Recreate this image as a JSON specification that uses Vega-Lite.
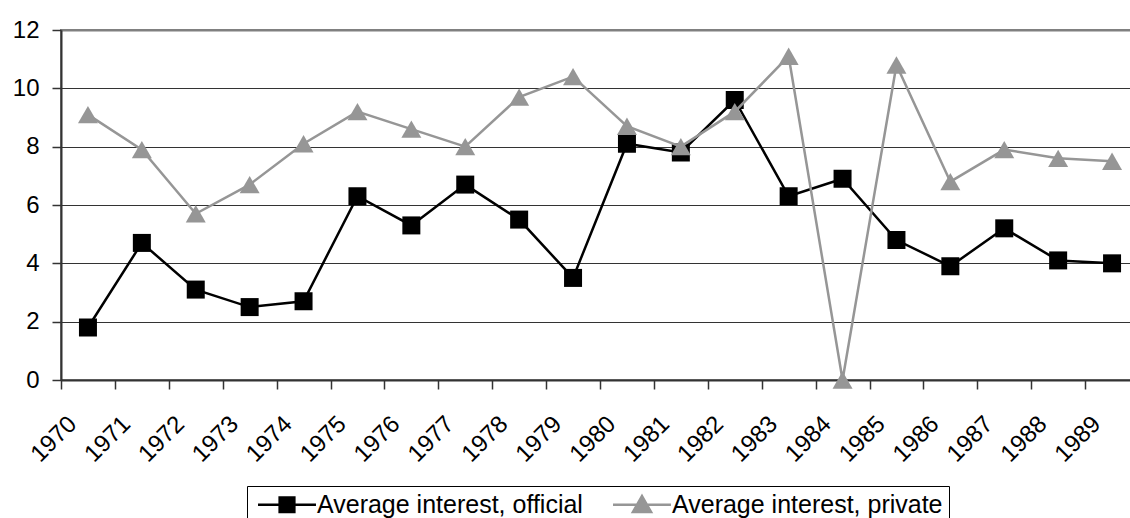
{
  "$schema": "https://vega.github.io/schema/vega-lite/v6.json",
  "width": 1078,
  "height": 350,
  "autosize": {"type": "none"},
  "padding": {"left": 61, "top": 30, "right": -9, "bottom": 138},
  "background": "white",
  "config": {
    "font": "Liberation Sans",
    "view": {"stroke": "#808080", "strokeWidth": 2}
  },
  "data": {
    "values": [
      {"year": "1970", "series": "Average interest, official", "value": 1.8},
      {"year": "1971", "series": "Average interest, official", "value": 4.7},
      {"year": "1972", "series": "Average interest, official", "value": 3.1},
      {"year": "1973", "series": "Average interest, official", "value": 2.5},
      {"year": "1974", "series": "Average interest, official", "value": 2.7},
      {"year": "1975", "series": "Average interest, official", "value": 6.3},
      {"year": "1976", "series": "Average interest, official", "value": 5.3},
      {"year": "1977", "series": "Average interest, official", "value": 6.7},
      {"year": "1978", "series": "Average interest, official", "value": 5.5},
      {"year": "1979", "series": "Average interest, official", "value": 3.5},
      {"year": "1980", "series": "Average interest, official", "value": 8.1},
      {"year": "1981", "series": "Average interest, official", "value": 7.8},
      {"year": "1982", "series": "Average interest, official", "value": 9.6},
      {"year": "1983", "series": "Average interest, official", "value": 6.3},
      {"year": "1984", "series": "Average interest, official", "value": 6.9},
      {"year": "1985", "series": "Average interest, official", "value": 4.8},
      {"year": "1986", "series": "Average interest, official", "value": 3.9},
      {"year": "1987", "series": "Average interest, official", "value": 5.2},
      {"year": "1988", "series": "Average interest, official", "value": 4.1},
      {"year": "1989", "series": "Average interest, official", "value": 4.0},
      {"year": "1970", "series": "Average interest, private", "value": 9.1},
      {"year": "1971", "series": "Average interest, private", "value": 7.9},
      {"year": "1972", "series": "Average interest, private", "value": 5.7},
      {"year": "1973", "series": "Average interest, private", "value": 6.7},
      {"year": "1974", "series": "Average interest, private", "value": 8.1},
      {"year": "1975", "series": "Average interest, private", "value": 9.2},
      {"year": "1976", "series": "Average interest, private", "value": 8.6},
      {"year": "1977", "series": "Average interest, private", "value": 8.0},
      {"year": "1978", "series": "Average interest, private", "value": 9.7},
      {"year": "1979", "series": "Average interest, private", "value": 10.4},
      {"year": "1980", "series": "Average interest, private", "value": 8.7},
      {"year": "1981", "series": "Average interest, private", "value": 8.0},
      {"year": "1982", "series": "Average interest, private", "value": 9.2},
      {"year": "1983", "series": "Average interest, private", "value": 11.1},
      {"year": "1984", "series": "Average interest, private", "value": 0},
      {"year": "1985", "series": "Average interest, private", "value": 10.8},
      {"year": "1986", "series": "Average interest, private", "value": 6.8},
      {"year": "1987", "series": "Average interest, private", "value": 7.9},
      {"year": "1988", "series": "Average interest, private", "value": 7.6},
      {"year": "1989", "series": "Average interest, private", "value": 7.5}
    ]
  },
  "encoding": {
    "x": {
      "field": "year",
      "type": "ordinal",
      "scale": {"type": "band", "paddingInner": 0, "paddingOuter": 0},
      "axis": {
        "title": null,
        "grid": false,
        "labelAngle": -45,
        "labelAlign": "right",
        "labelBaseline": "middle",
        "labelFontSize": 24,
        "labelColor": "#000000",
        "labelOffset": -15.5,
        "labelPadding": 31,
        "labelOverlap": false,
        "tickBand": "extent",
        "tickSize": 9,
        "tickColor": "#333333",
        "tickWidth": 1.5,
        "domainColor": "#333333",
        "domainWidth": 2
      }
    },
    "y": {
      "field": "value",
      "type": "quantitative",
      "scale": {"domain": [0, 12], "nice": false},
      "axis": {
        "title": null,
        "values": [0, 2, 4, 6, 8, 10, 12],
        "labelFontSize": 24,
        "labelColor": "#000000",
        "labelPadding": 13,
        "tickSize": 9,
        "tickColor": "#333333",
        "tickWidth": 1.5,
        "domainColor": "#333333",
        "domainWidth": 2,
        "grid": true,
        "gridColor": {"condition": {"test": "datum.value === 12", "value": "#808080"}, "value": "#333333"},
        "gridWidth": {"condition": {"test": "datum.value === 12", "value": 2}, "value": 1}
      }
    },
    "color": {
      "field": "series",
      "type": "nominal",
      "scale": {
        "domain": ["Average interest, official", "Average interest, private"],
        "range": ["#000000", "#969696"]
      },
      "legend": {
        "title": null,
        "orient": "none",
        "legendX": 186,
        "legendY": 456,
        "direction": "horizontal",
        "fillColor": "#ffffff",
        "strokeColor": "#000000",
        "padding": 6,
        "labelFontSize": 25,
        "labelFont": "Liberation Sans",
        "labelColor": "#000000",
        "labelLimit": 0,
        "labelExpr": "datum.value === 'Average interest, private' ? datum.label + '\u00a0\u00a0\u00a0' : datum.label",
        "symbolSize": 196,
        "symbolOffset": 21.5,
        "labelOffset": 17.5,
        "columnPadding": 25,
        "symbolStrokeWidth": 2.5,
        "encode": {
          "symbols": {
            "update": {
              "shape": {"signal": "datum.value === 'Average interest, official' ? 'M-4.14,0L4.14,0M-1.05,-1.05L1.05,-1.05L1.05,1.05L-1.05,1.05Z' : 'M-4.14,0L4.14,0M0,-1.25L1.3,1.05L-1.3,1.05Z'"},
              "fill": {"signal": "datum.value === 'Average interest, official' ? '#000000' : '#969696'"},
              "stroke": {"signal": "datum.value === 'Average interest, official' ? '#000000' : '#969696'"},
              "strokeWidth": {"value": 2.5}
            }
          }
        }
      }
    }
  },
  "layer": [
    {
      "transform": [{"filter": "datum.series === 'Average interest, official'"}],
      "mark": {
        "type": "line",
        "strokeWidth": 2.5,
        "point": {"shape": "square", "size": 324, "filled": true}
      }
    },
    {
      "transform": [{"filter": "datum.series === 'Average interest, private'"}],
      "mark": {
        "type": "line",
        "strokeWidth": 2.5,
        "point": {"shape": "triangle-up", "size": 400, "filled": true}
      }
    }
  ]
}
